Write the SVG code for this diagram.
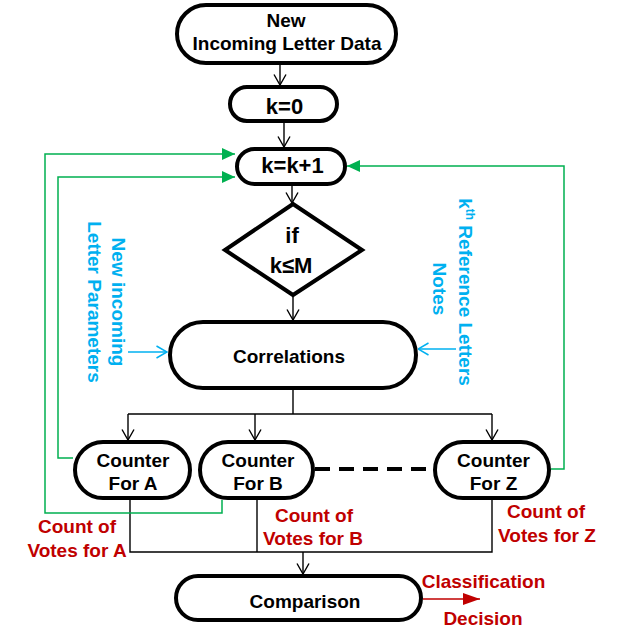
<svg xmlns="http://www.w3.org/2000/svg" width="627" height="640" viewBox="0 0 627 640">
<style>
text{font-family:"Liberation Sans",Arial,sans-serif;font-weight:bold;font-size:19px;text-anchor:middle}
.node{fill:#fff;stroke:#000;stroke-width:4}
.big{font-size:22px}
.blk{fill:#000}
.red{fill:#C00000}
.blue{fill:#00B0F0}
.ln{fill:none;stroke:#000;stroke-width:1.4}
.gr{fill:none;stroke:#00B050;stroke-width:1.5}
.bl{fill:none;stroke:#00B0F0;stroke-width:1.5}
</style>
<defs>
<marker id="ab" markerUnits="userSpaceOnUse" viewBox="0 0 12 14" refX="11.5" refY="7" markerWidth="12" markerHeight="14" orient="auto">
<path d="M1,1 L11.5,7 L1,13" fill="none" stroke="#000" stroke-width="1.4"/>
</marker>
<marker id="abl" markerUnits="userSpaceOnUse" viewBox="0 0 12 14" refX="11.5" refY="7" markerWidth="12" markerHeight="14" orient="auto">
<path d="M1,1 L11.5,7 L1,13" fill="none" stroke="#00B0F0" stroke-width="1.5"/>
</marker>
<marker id="ag" markerUnits="userSpaceOnUse" viewBox="0 0 13 12" refX="13" refY="6" markerWidth="13" markerHeight="12" orient="auto">
<path d="M0,0 L13,6 L0,12 Z" fill="#00B050"/>
</marker>
<marker id="ar" markerUnits="userSpaceOnUse" viewBox="0 0 17 12" refX="17" refY="6" markerWidth="17" markerHeight="12" orient="auto">
<path d="M0,0 L17,6 L0,12 Z" fill="#C00000"/>
</marker>
</defs>

<g id="connectors">
<line class="ln" x1="280" y1="64" x2="280" y2="85" marker-end="url(#ab)"/>
<line class="ln" x1="284" y1="123" x2="284" y2="147" marker-end="url(#ab)"/>
<line class="ln" x1="292" y1="186" x2="292" y2="203" marker-end="url(#ab)"/>
<line class="ln" x1="293" y1="297" x2="293" y2="320" marker-end="url(#ab)"/>
<polyline class="ln" points="293,390 293,414"/>
<polyline class="ln" points="128,414 492,414"/>
<line class="ln" x1="128" y1="414" x2="128" y2="440" marker-end="url(#ab)"/>
<line class="ln" x1="255" y1="414" x2="255" y2="440" marker-end="url(#ab)"/>
<line class="ln" x1="492" y1="414" x2="492" y2="440" marker-end="url(#ab)"/>
<polyline class="ln" points="130,500 130,552 492,552 492,500"/>
<line class="ln" x1="257" y1="500" x2="257" y2="552"/>
<line class="ln" x1="303" y1="552" x2="303" y2="574" marker-end="url(#ab)"/>
<line x1="315" y1="469" x2="433" y2="469" stroke="#000" stroke-width="4" stroke-dasharray="15,9"/>
<polyline class="gr" points="222,500 222,513 45,513 45,154 235,154" marker-end="url(#ag)"/>
<polyline class="gr" points="73,458 58,458 58,177 235,177" marker-end="url(#ag)"/>
<polyline class="gr" points="551,469 564,469 564,166 347,166" marker-end="url(#ag)"/>
<line class="bl" x1="128" y1="352" x2="167" y2="352" marker-end="url(#abl)"/>
<line class="bl" x1="456" y1="349" x2="418" y2="349" marker-end="url(#abl)"/>
<line x1="423" y1="599" x2="480" y2="599" stroke="#C00000" stroke-width="1.5" marker-end="url(#ar)"/>
</g>

<g id="n-new">
<rect class="node" x="177" y="5" width="219" height="58" rx="29"/>
<text x="286" y="27">New</text>
<text x="287" y="50">Incoming Letter Data</text>
</g>
<g id="n-k0">
<rect class="node" x="230" y="87" width="107" height="34" rx="17"/>
<text class="big" x="284.5" y="114">k=0</text>
</g>
<g id="n-kk1">
<rect class="node" x="237" y="149" width="108" height="35" rx="17.5"/>
<text class="big" x="292.5" y="173">k=k+1</text>
</g>
<g id="n-if">
<polygon class="node" points="293,204 362,250 293,295 225,250"/>
<text class="big" x="292" y="243">if</text>
<text class="big" x="291" y="273">k≤M</text>
</g>
<g id="n-corr">
<rect class="node" x="170" y="322" width="246" height="66" rx="33"/>
<text x="289" y="363">Correlations</text>
</g>
<g id="n-ca">
<rect class="node" x="75" y="442" width="115" height="56" rx="28"/>
<text x="133" y="467">Counter</text>
<text x="133" y="490">For A</text>
</g>
<g id="n-cb">
<rect class="node" x="200" y="442" width="113" height="56" rx="28"/>
<text x="258" y="467">Counter</text>
<text x="258" y="490">For B</text>
</g>
<g id="n-cz">
<rect class="node" x="435" y="442" width="114" height="56" rx="28"/>
<text x="493.5" y="467">Counter</text>
<text x="493.5" y="490">For Z</text>
</g>
<g id="n-comp">
<rect class="node" x="176" y="576" width="245" height="44" rx="22"/>
<text x="305" y="608">Comparison</text>
</g>

<g id="labels">
<text class="blue" transform="translate(112,302) rotate(90)">New incoming</text>
<text class="blue" transform="translate(88,302) rotate(90)">Letter Parameters</text>
<text class="blue" transform="translate(459,292) rotate(90)">k<tspan font-size="12" dy="-7">th</tspan><tspan dy="7"> Reference Letters</tspan></text>
<text class="blue" transform="translate(433,289) rotate(90)">Notes</text>
<text class="red" x="77" y="533">Count of</text>
<text class="red" x="77" y="557">Votes for A</text>
<text class="red" x="314" y="522">Count of</text>
<text class="red" x="313" y="545">Votes for B</text>
<text class="red" x="546" y="518">Count of</text>
<text class="red" x="547" y="542">Votes for Z</text>
<text class="red" x="483.5" y="588">Classification</text>
<text class="red" x="483" y="625">Decision</text>
</g>
</svg>
